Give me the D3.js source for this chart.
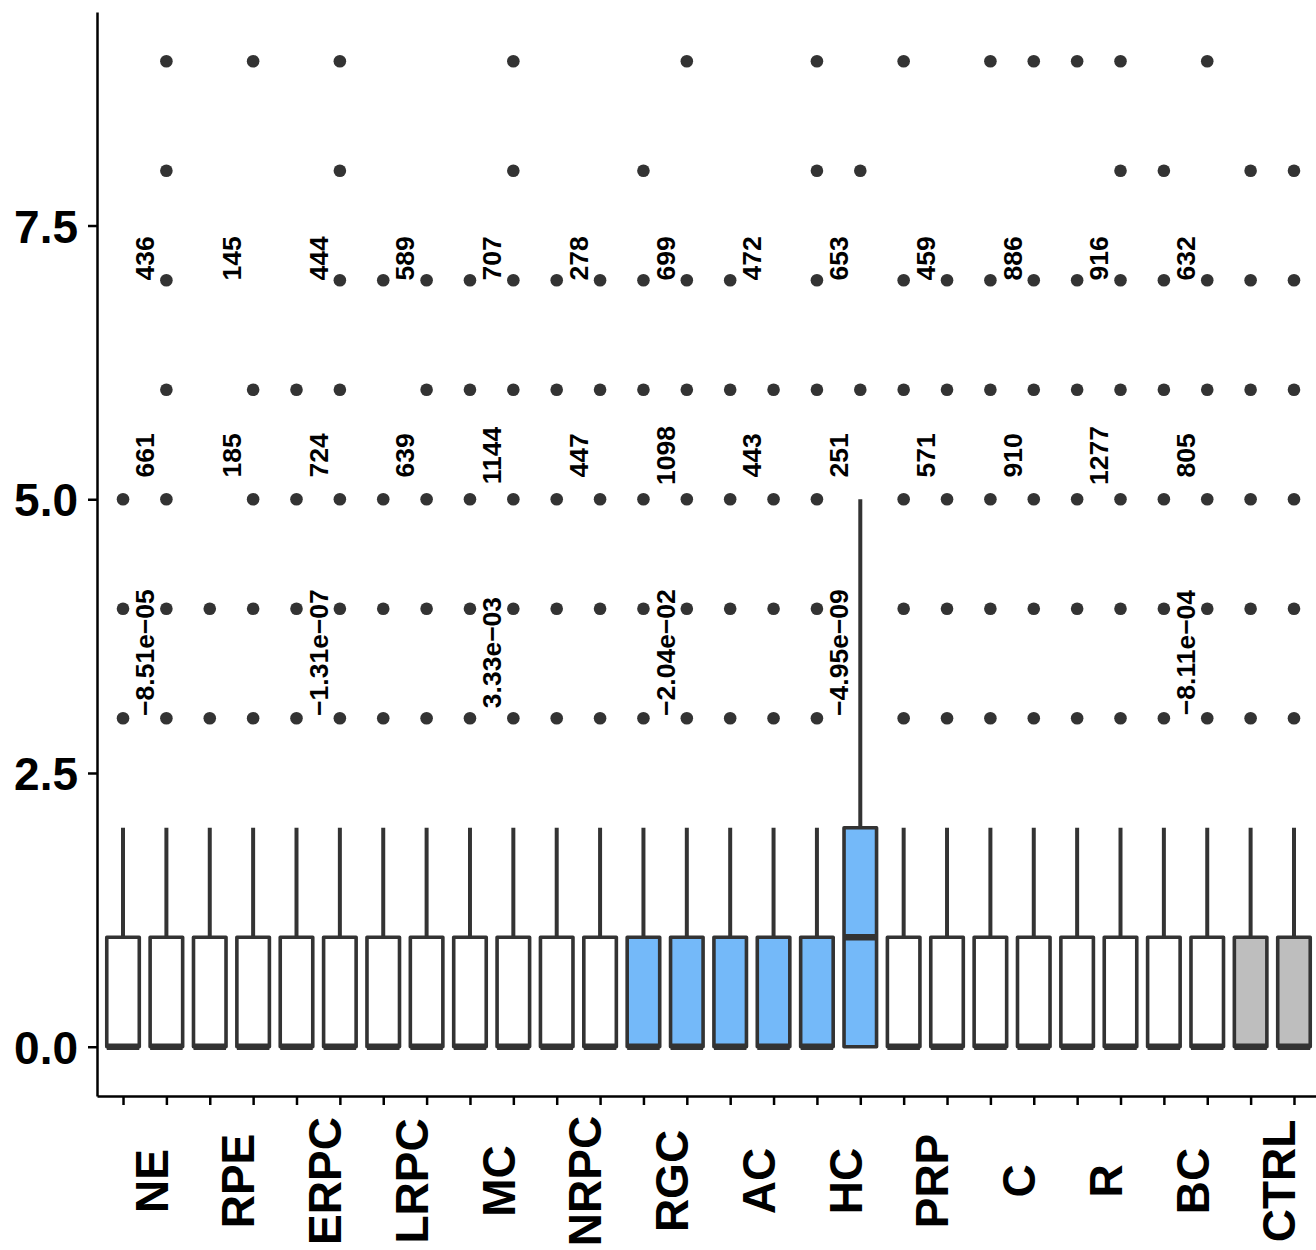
<!DOCTYPE html>
<html>
<head>
<meta charset="utf-8">
<script src="https://cdn.jsdelivr.net/npm/d3@7"></script>
<style>
  html, body { margin: 0; padding: 0; background: #fff; }
  svg { display: block; font-family: "Liberation Sans", Arial, sans-serif; }
</style>
</head>
<body>
<svg id="chart" width="1316" height="1250"></svg>
<script>
// ---------- data ----------
const groups = ["NE","RPE","ERPC","LRPC","MC","NRPC","RGC","AC","HC","PRP","C","R","BC","CTRL"];
const groupType = ["other","other","other","other","other","other","target","target","target","other","other","other","other","control"];

// two boxes per group (28 boxes, in order)
const boxQ1     = [0,0, 0,0, 0,0, 0,0, 0,0, 0,0, 0,0, 0,0, 0,0, 0,0, 0,0, 0,0, 0,0, 0,0];
const boxMedian = [0,0, 0,0, 0,0, 0,0, 0,0, 0,0, 0,0, 0,0, 0,1, 0,0, 0,0, 0,0, 0,0, 0,0];
const boxQ3     = [1,1, 1,1, 1,1, 1,1, 1,1, 1,1, 1,1, 1,1, 1,2, 1,1, 1,1, 1,1, 1,1, 1,1];
const boxUpper  = [2,2, 2,2, 2,2, 2,2, 2,2, 2,2, 2,2, 2,2, 2,5, 2,2, 2,2, 2,2, 2,2, 2,2];
const boxOutliers = [
  [3,4,5],            [3,4,5,6,7,8,9],   // NE
  [3,4],              [3,4,5,6,9],       // RPE
  [3,4,5,6],          [3,4,5,6,7,8,9],   // ERPC
  [3,4,5,7],          [3,4,5,6,7],       // LRPC
  [3,4,5,6,7],        [3,4,5,6,7,8,9],   // MC
  [3,4,5,6,7],        [3,4,5,6,7],       // NRPC
  [3,4,5,6,7,8],      [3,4,5,6,7,9],     // RGC
  [3,4,5,6,7],        [3,4,5,6],         // AC
  [3,4,5,6,7,8,9],    [6,8],             // HC
  [3,4,5,6,7,9],      [3,4,5,6,7],       // PRP
  [3,4,5,6,7,9],      [3,4,5,6,7,9],     // C
  [3,4,5,6,7,9],      [3,4,5,6,7,8,9],   // R
  [3,4,5,6,7,8],      [3,4,5,6,7,9],     // BC
  [3,4,5,6,7,8],      [3,4,5,6,7,8]      // CTRL
];

const countsTop    = [436,145,444,589,707,278,699,472,653,459,886,916,632,null];
const countsMiddle = [661,185,724,639,1144,447,1098,443,251,571,910,1277,805,null];
const pValues      = [-8.51e-05,null,-1.31e-07,null,3.33e-03,null,-2.04e-02,null,-4.95e-09,null,null,null,-8.11e-04,null];

const yTicks = [0, 2.5, 5.0, 7.5];

// ---------- layout ----------
const plot = { left: 97, right: 1320, top: 12, bottom: 1096 };
const boxIds = [];
groups.forEach(g => { boxIds.push(g + "_a"); boxIds.push(g + "_b"); });

const yMax = d3.max(boxOutliers.flat().concat(boxUpper));
const yMin = d3.min(boxQ1);
const yPad = (yMax - yMin) * 0.05;

const x = d3.scalePoint().domain(boxIds).range([plot.left, plot.right]).padding(0.6);
const y = d3.scaleLinear().domain([yMin - yPad, yMax + yPad]).range([plot.bottom, plot.top]);
const boxW = x.step() * 0.75;

const fillOf = { other: "#FFFFFF", target: "#74B9F9", control: "#BEBEBE" };
const lineCol = "#333333";

const svg = d3.select("#chart");
const g = svg.append("g");

const boxes = boxIds.map((id, i) => ({
  id, i, group: Math.floor(i / 2),
  q1: boxQ1[i], med: boxMedian[i], q3: boxQ3[i], up: boxUpper[i], out: boxOutliers[i]
}));

// whiskers
g.selectAll("line.whisker").data(boxes).join("line")
  .attr("class", "whisker")
  .attr("x1", d => x(d.id)).attr("x2", d => x(d.id))
  .attr("y1", d => y(d.q3)).attr("y2", d => y(d.up))
  .attr("stroke", lineCol).attr("stroke-width", 4);

// boxes
g.selectAll("rect.box").data(boxes).join("rect")
  .attr("class", "box")
  .attr("x", d => x(d.id) - boxW / 2)
  .attr("width", boxW)
  .attr("y", d => y(d.q3))
  .attr("height", d => y(d.q1) - y(d.q3))
  .attr("fill", d => fillOf[groupType[d.group]])
  .attr("stroke", lineCol).attr("stroke-width", 3.6)
  .attr("stroke-linejoin", "round");

// medians
g.selectAll("line.median").data(boxes).join("line")
  .attr("class", "median")
  .attr("x1", d => x(d.id) - boxW / 2).attr("x2", d => x(d.id) + boxW / 2)
  .attr("y1", d => y(d.med)).attr("y2", d => y(d.med))
  .attr("stroke", lineCol).attr("stroke-width", 6.5);

// outliers
const pts = boxes.flatMap(b => b.out.map(v => ({ id: b.id, v })));
g.selectAll("circle.out").data(pts).join("circle")
  .attr("class", "out")
  .attr("cx", d => x(d.id)).attr("cy", d => y(d.v))
  .attr("r", 6.3).attr("fill", lineCol);

// ---------- annotations ----------
const groupCenter = gi => (x(boxIds[2 * gi]) + x(boxIds[2 * gi + 1])) / 2;
const fmtP = v => {
  let s = v.toExponential(2);               // e.g. -8.51e-5
  s = s.replace(/e([+-])(\d)$/, "e$10$2");  // pad exponent to two digits
  return s.replace(/-/g, "\u2212");
};
const annos = [];
groups.forEach((gname, gi) => {
  if (countsTop[gi] != null) annos.push({ gi, v: yMax * 0.8, t: String(countsTop[gi]) });
  if (countsMiddle[gi] != null) annos.push({ gi, v: yMax * 0.6, t: String(countsMiddle[gi]) });
  if (pValues[gi] != null) annos.push({ gi, v: yMax * 0.4, t: fmtP(pValues[gi]) });
});
g.selectAll("text.anno").data(annos).join("text")
  .attr("class", "anno")
  .attr("transform", d => `translate(${groupCenter(d.gi)},${y(d.v)}) rotate(-90)`)
  .attr("text-anchor", "middle")
  .attr("dy", "0.36em")
  .attr("font-size", 26.5).attr("font-weight", "bold").attr("fill", "#000")
  .text(d => d.t);

// ---------- axes ----------
const yAxis = d3.axisLeft(y).tickValues(yTicks).tickFormat(d3.format(".1f"))
  .tickSize(9).tickSizeOuter(0).tickPadding(10);
const yG = svg.append("g").attr("transform", `translate(${plot.left},0)`).call(yAxis);
yG.select(".domain").attr("stroke", "#000").attr("stroke-width", 2.5);
yG.selectAll(".tick line").attr("stroke", "#000").attr("stroke-width", 2.5);
yG.selectAll(".tick text").attr("font-size", 46).attr("font-weight", "bold")
  .attr("fill", "#000").attr("dy", "0.36em")
  .attr("font-family", "'Liberation Sans', Arial, sans-serif");

const xAxis = d3.axisBottom(x).tickFormat("").tickSize(9).tickSizeOuter(0);
const xG = svg.append("g").attr("transform", `translate(0,${plot.bottom})`).call(xAxis);
xG.select(".domain").attr("stroke", "#000").attr("stroke-width", 2.5);
xG.selectAll(".tick line").attr("stroke", "#000").attr("stroke-width", 2.5);

// group labels
svg.append("g").selectAll("text.xlab").data(groups).join("text")
  .attr("class", "xlab")
  .attr("transform", (d, gi) => `translate(${groupCenter(gi)},${plot.bottom + 85}) rotate(-90)`)
  .attr("text-anchor", "middle")
  .attr("dy", "0.5em")
  .attr("font-size", 46).attr("font-weight", "bold").attr("fill", "#000")
  .text(d => d);
</script>
</body>
</html>
